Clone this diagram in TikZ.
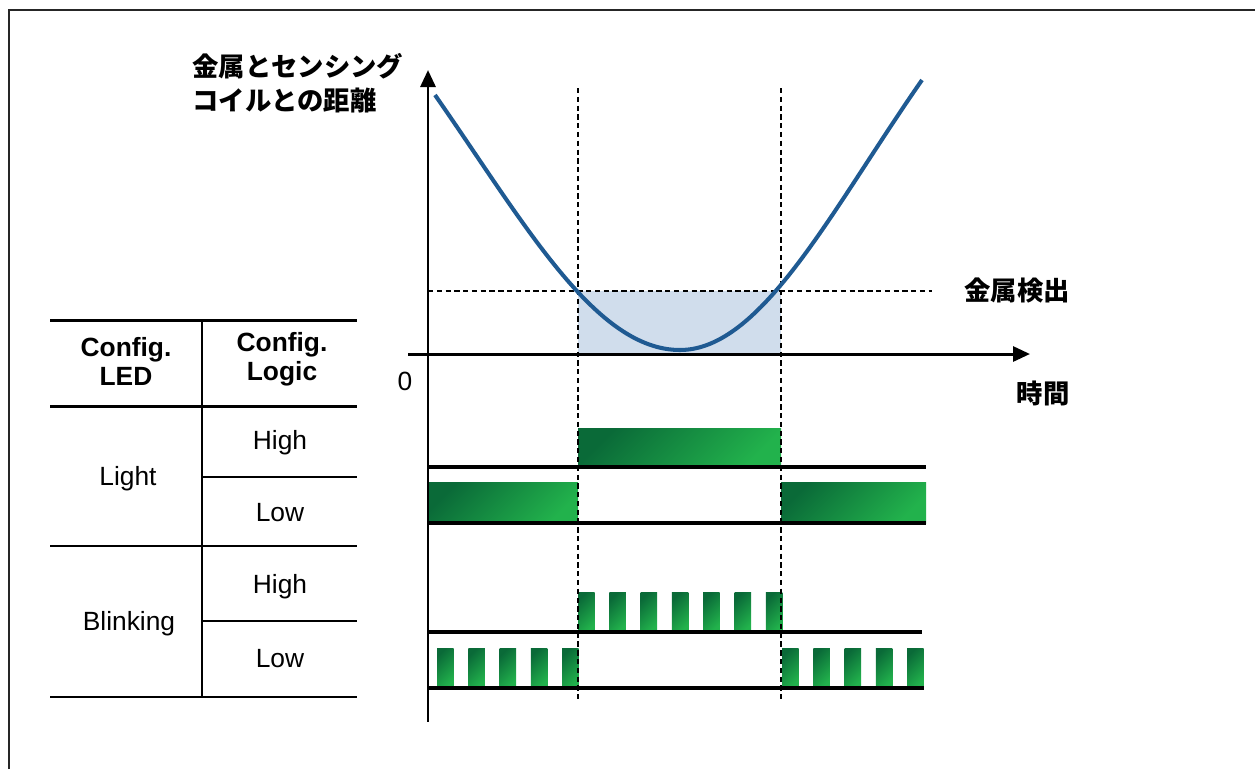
\documentclass[tikz,border=0pt]{standalone}
\usepackage{fontspec}
\setmainfont{Liberation Sans}
\newfontfamily\jpfont{Noto Sans CJK JP}
\usetikzlibrary{arrows.meta,positioning}
\definecolor{curveblue}{HTML}{1F5A92}
\definecolor{shadeblue}{HTML}{D0DDEC}
\definecolor{ledgreenA}{HTML}{0A6A38}
\definecolor{ledgreenB}{HTML}{22B24C}
\tikzset{
  frameline/.style={line width=1.1pt, draw=black!85},
  axisline/.style={line width=1.7pt, -{Triangle[length=3.4mm, width=3mm]}},
  guide/.style={line width=0.75pt, dash pattern=on 3pt off 2pt},
  curveline/.style={line width=2.3pt, draw=curveblue},
  ledbar/.style={shading=axis, top color=ledgreenA, bottom color=ledgreenB, shading angle=45},
  signal/.style={line width=2pt},
  tabrule/.style={line width=1.7pt},
  tabline/.style={line width=0.8pt},
  jplabel/.style={inner sep=0pt, font=\jpfont\bfseries\fontsize{15}{19.3}\selectfont},
  celltext/.style={inner sep=0pt, align=center, font=\fontsize{15}{16}\selectfont},
  headtext/.style={celltext, font=\bfseries\fontsize{15}{16.5}\selectfont}
}
\begin{document}
\begin{tikzpicture}[x=0.02cm, y=-0.02cm]
  \useasboundingbox (0,0) rectangle (1255,769);
  \draw[frameline] (9,769) -- (9,10) -- (1255,10);

  % detection window
  \fill[shadeblue] (578,291) rectangle (781,354);

  % LED rows
  \shade[ledbar] (578,428) rectangle (781,467);
  \shade[ledbar] (428,482) rectangle (578,523);
  \shade[ledbar] (781,482) rectangle (926,523);
  \foreach \i in {0,...,6}
    \shade[ledbar] ({578+31.3*\i},592) rectangle ({594.5+31.3*\i},632);
  \foreach \i in {0,...,4} {
    \shade[ledbar] ({437+31.25*\i},648) rectangle ({453.5+31.25*\i},688);
    \shade[ledbar] ({782+31.25*\i},648) rectangle ({798.5+31.25*\i},688);
  }
  \draw[signal] (428,467) -- (926,467);
  \draw[signal] (428,523) -- (926,523);
  \draw[signal] (428,632) -- (922,632);
  \draw[signal] (428,688) -- (924,688);

  % guides
  \draw[guide] (428,291) -- (932,291);
  \draw[guide] (578,88) -- (578,700);
  \draw[guide] (781,88) -- (781,700);

  % axes
  \draw[line width=0.6pt] (428,380) -- (428,722);
  \draw[axisline] (428,380) -- (428,70);
  \draw[axisline] (408,354) -- (1030,354);

  % distance curve
  \draw[curveline] (435,95) .. controls (525,224) and (595,350) .. (680,350)
    .. controls (762,350) and (832,209) .. (922,80);

  \node[jplabel, anchor=west, align=left] (ylab) at (192,83) {金属とセンシング\\コイルとの距離};
  \node[jplabel] (xlab) at (1043,393) {時間};
  \node[jplabel] (detlab) at (1017,291) {金属検出};
  \node[celltext] (zero) at (405,381) {0};

  % table
  \draw[tabrule] (50,320) -- (357,320);
  \draw[tabrule] (50,406) -- (357,406);
  \draw[tabline] (202,320) -- (202,697);
  \draw[tabline] (202,477) -- (357,477);
  \draw[tabline] (50,546) -- (357,546);
  \draw[tabline] (202,621) -- (357,621);
  \draw[tabline] (50,697) -- (357,697);

  \node[headtext] (hled) at (126,361) {Config.\\LED};
  \node[headtext] (hlogic) at (282,359) {Config.\\Logic};
  \node[celltext] (light) at (128,479) {Light};
  \node[celltext] (lhigh) at (280,443) {High};
  \node[celltext] (llow) at (280,513) {Low};
  \node[celltext] (blink) at (129,624) {Blinking};
  \node[celltext] (bhigh) at (280,587) {High};
  \node[celltext] (blow) at (280,659) {Low};
\end{tikzpicture}
\end{document}
